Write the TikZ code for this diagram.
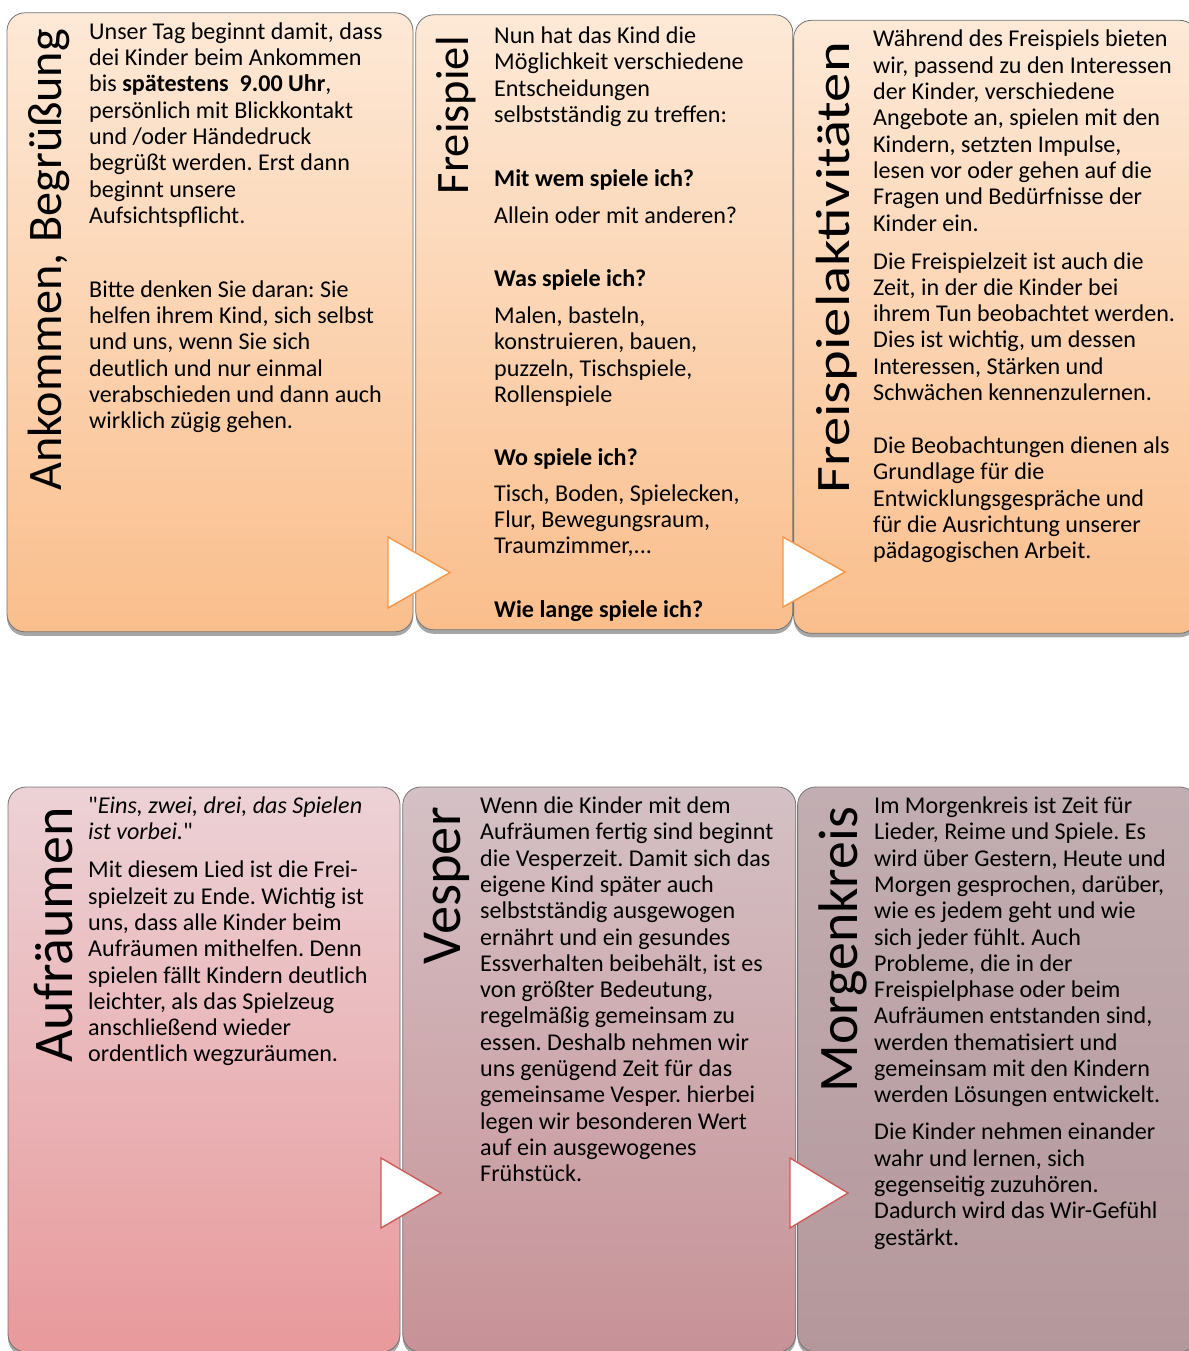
\documentclass[tikz,border=0pt]{standalone}
\usepackage{fontspec}
\setmainfont{Carlito}[Ligatures=TeXOff]
\usetikzlibrary{positioning}
\usetikzlibrary{shadows}

\definecolor{peachtop}{RGB}{253,233,215}
\definecolor{peachbot}{RGB}{250,190,140}
\definecolor{rosetop}{RGB}{236,210,214}
\definecolor{rosebot}{RGB}{232,153,155}
\definecolor{mauvetop}{RGB}{212,193,197}
\definecolor{mauvebot}{RGB}{199,146,151}
\definecolor{greytop}{RGB}{194,174,178}
\definecolor{greybot}{RGB}{180,151,155}
\definecolor{pointerorange}{RGB}{247,150,70}
\definecolor{pointerred}{RGB}{205,92,88}

\newcommand{\bodysize}{\fontsize{24.1}{26.3}\selectfont}
\frenchspacing

\begin{document}
\begin{tikzpicture}[x=1pt, y=-1pt,
    card/.style={rectangle, rounded corners=18pt, draw=black!55, line width=0.8pt,
        inner sep=0pt, drop shadow={shadow xshift=0pt, shadow yshift=-4pt, opacity=0.35, fill=black}},
    title/.style={rotate=90, anchor=base east, inner sep=0pt},
    body/.style={anchor=north west, align=left, inner sep=0pt, font=\bodysize},
    pointer/.style={fill=white, line width=1.4pt, line join=miter}]
    \useasboundingbox (0,0) rectangle (1188,1351);

    % first row
    \node (ankommen) [card, minimum width=406pt, minimum height=619pt, top color=peachtop, bottom color=peachbot] at (210,322.3) {};
    \node (freispiel) [card, minimum width=377pt, minimum height=615pt, top color=peachtop, bottom color=peachbot, right=2pt of ankommen] {};
    \node (aktiv) [card, minimum width=404pt, minimum height=613pt, top color=peachtop, bottom color=peachbot, right=0pt of freispiel, yshift=-4.5pt] {};

    % second row
    \node (aufraeumen) [card, minimum width=392pt, minimum height=565pt, top color=rosetop, bottom color=rosebot] at (204,1069.5) {};
    \node (vesper) [card, minimum width=393pt, minimum height=565pt, top color=mauvetop, bottom color=mauvebot, right=2pt of aufraeumen] {};
    \node (morgenkreis) [card, minimum width=400pt, minimum height=565pt, top color=greytop, bottom color=greybot, right=1pt of vesper] {};

    % titles
    \node (t-ankommen) [title, font=\fontsize{48.2}{49}\selectfont] at (61,29) {Ankommen, Begrüßung};
    \node (t-freispiel) [title, font=\fontsize{46.5}{47}\selectfont] at (468,36) {Freispiel};
    \node (t-aktiv) [title, font=\fontsize{48}{48}\selectfont] at (849,42) {\scalebox{1.22}[1]{Freispielaktivitäten}};
    \node (t-aufraeumen) [title, font=\fontsize{56}{57}\selectfont] at (72,807) {Aufräumen};
    \node (t-vesper) [title, font=\fontsize{56.5}{57}\selectfont] at (460,807) {Vesper};
    \node (t-morgenkreis) [title, font=\fontsize{55.8}{56}\selectfont] at (857,807) {Morgenkreis};

    % texts
    \node (x-ankommen) [body] at (89,20.6) {\strut Unser Tag beginnt damit, dass\\
        dei Kinder beim Ankommen\\
        bis \textbf{spätestens\ \ 9.00 Uhr},\\
        persönlich mit Blickkontakt\\
        und /oder Händedruck\\
        begrüßt werden. Erst dann\\
        beginnt unsere\\
        Aufsichtspflicht.\\[47.7pt]
        Bitte denken Sie daran: Sie\\
        helfen ihrem Kind, sich selbst\\
        und uns, wenn Sie sich\\
        deutlich und nur einmal\\
        verabschieden und dann auch\\
        wirklich zügig gehen.};
    \node (x-freispiel) [body] at (494,24.9) {\strut Nun hat das Kind die\\
        Möglichkeit verschiedene\\
        Entscheidungen\\
        selbstständig zu treffen:\\[37.7pt]
        \textbf{Mit wem spiele ich?}\\[10.7pt]
        Allein oder mit anderen?\\[36.7pt]
        \textbf{Was spiele ich?}\\[10.7pt]
        Malen, basteln,\\
        konstruieren, bauen,\\
        puzzeln, Tischspiele,\\
        Rollenspiele\\[36.7pt]
        \textbf{Wo spiele ich?}\\[9.7pt]
        Tisch, Boden, Spielecken,\\
        Flur, Bewegungsraum,\\
        Traumzimmer,...\\[37.7pt]
        \textbf{Wie lange spiele ich?}};
    \node (x-aktiv) [body] at (873,28.3) {\strut Während des Freispiels bieten\\
        wir, passend zu den Interessen\\
        der Kinder, verschiedene\\
        Angebote an, spielen mit den\\
        Kindern, setzten Impulse,\\
        lesen vor oder gehen auf die\\
        Fragen und Bedürfnisse der\\
        Kinder ein.\\[11.7pt]
        Die Freispielzeit ist auch die\\
        Zeit, in der die Kinder bei\\
        ihrem Tun beobachtet werden.\\
        Dies ist wichtig, um dessen\\
        Interessen, Stärken und\\
        Schwächen kennenzulernen.\\[26.7pt]
        Die Beobachtungen dienen als\\
        Grundlage für die\\
        Entwicklungsgespräche und\\
        für die Ausrichtung unserer\\
        pädagogischen Arbeit.};
    \node (x-aufraeumen) [body] at (88,794.9) {\strut "\textit{Eins, zwei, drei, das Spielen}\\
        \textit{ist vorbei.}"\\[11.7pt]
        Mit diesem Lied ist die Frei-\\
        spielzeit zu Ende. Wichtig ist\\
        uns, dass alle Kinder beim\\
        Aufräumen mithelfen. Denn\\
        spielen fällt Kindern deutlich\\
        leichter, als das Spielzeug\\
        anschließend wieder\\
        ordentlich wegzuräumen.};
    \node (x-vesper) [body] at (480,794.9) {\strut Wenn die Kinder mit dem\\
        Aufräumen fertig sind beginnt\\
        die Vesperzeit. Damit sich das\\
        eigene Kind später auch\\
        selbstständig ausgewogen\\
        ernährt und ein gesundes\\
        Essverhalten beibehält, ist es\\
        von größter Bedeutung,\\
        regelmäßig gemeinsam zu\\
        essen. Deshalb nehmen wir\\
        uns genügend Zeit für das\\
        gemeinsame Vesper. hierbei\\
        legen wir besonderen Wert\\
        auf ein ausgewogenes\\
        Frühstück.};
    \node (x-morgenkreis) [body] at (874,794.9) {\strut Im Morgenkreis ist Zeit für\\
        Lieder, Reime und Spiele. Es\\
        wird über Gestern, Heute und\\
        Morgen gesprochen, darüber,\\
        wie es jedem geht und wie\\
        sich jeder fühlt. Auch\\
        Probleme, die in der\\
        Freispielphase oder beim\\
        Aufräumen entstanden sind,\\
        werden thematisiert und\\
        gemeinsam mit den Kindern\\
        werden Lösungen entwickelt.\\[10.7pt]
        Die Kinder nehmen einander\\
        wahr und lernen, sich\\
        gegenseitig zuzuhören.\\
        Dadurch wird das Wir-Gefühl\\
        gestärkt.};

    % pointers between the cards
    \draw [pointer, draw=pointerorange] (388,537) -- (450,572.5) -- (388,608) -- cycle;
    \draw [pointer, draw=pointerorange] (783,537) -- (845,572) -- (783,607) -- cycle;
    \draw [pointer, draw=pointerred] (381,1158) -- (441,1193) -- (381,1228) -- cycle;
    \draw [pointer, draw=pointerred] (790,1158) -- (848,1193) -- (790,1228) -- cycle;
\end{tikzpicture}
\end{document}
